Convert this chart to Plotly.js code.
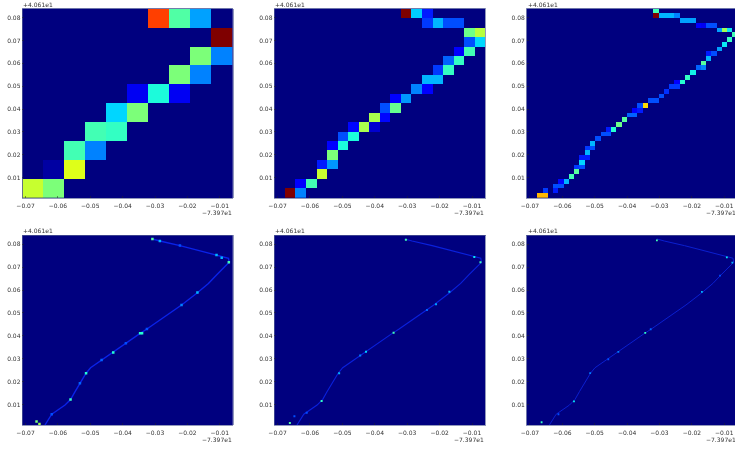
<!DOCTYPE html>
<html><head><meta charset="utf-8">
<script src="https://cdn.plot.ly/plotly-3.0.1.min.js"></script>
<style>html,body{margin:0;padding:0;background:#fff;overflow:hidden;width:735px;height:449px}#c{width:745px;height:449px;filter:blur(0.45px)}</style>
</head><body><div id="c"></div>
<script>
// axis values (offsets from -73.97 / 40.61)
const xTicks=[-0.07,-0.06,-0.05,-0.04,-0.03,-0.02,-0.01];
const yTicks=[0.01,0.02,0.03,0.04,0.05,0.06,0.07,0.08];
const xOffsetLabel='\u22127.397e1', yOffsetLabel='+4.061e1';
const xMin=-0.0710,xMax=-0.0060,yMin=0.0011,yMax=0.0839;

// coarse histograms: [row, col, density]
const cells10=[[0,0,.6],[0,1,.5],[1,1,.03],[1,2,.63],[2,2,.42],[2,3,.25],[3,3,.42],[3,4,.4],[4,4,.33],[4,5,.5],
[5,5,.1],[5,6,.37],[5,7,.1],[6,7,.5],[6,8,.25],[7,8,.5],[7,9,.25],[8,9,1],[9,6,.85],[9,7,.44],[9,8,.28]];
const cells20=[[0,1,1],[0,2,.25],[1,2,.12],[1,3,.42],[2,4,.6],[3,4,.15],[3,5,.27],[4,5,.5],[5,5,.12],[5,6,.37],
[6,6,.2],[6,7,.37],[7,7,.13],[7,8,.56],[7,9,.07],[8,9,.56],[8,10,.13],[9,10,.2],[9,11,.47],[10,11,.12],[10,12,.27],
[11,13,.25],[11,14,.12],[12,14,.3],[12,15,.3],[13,15,.18],[13,16,.4],[14,16,.22],[14,17,.4],[15,17,.12],[15,18,.42],
[16,18,.2],[16,19,.33],[17,18,.48],[17,19,.58],[18,14,.18],[18,15,.3],[18,16,.2],[18,17,.2],[19,12,1],[19,13,.32],[19,14,.15]];
const cells40=[[0,2,.72],[0,3,.72],[1,3,.18],[1,5,.15],[2,5,.2],[2,6,.2],[3,6,.13],[3,7,.3],[4,8,.42],[5,9,.45],[6,9,.18],
[6,10,.2],[7,10,.33],[8,10,.15],[8,11,.15],[9,11,.3],[10,11,.18],[10,12,.2],[11,12,.3],[12,13,.2],[13,14,.2],[13,15,.2],
[14,15,.15],[14,16,.38],[15,17,.48],[16,18,.45],[17,19,.22],[17,20,.22],[18,20,.12],[18,21,.15],[19,21,.2],[19,22,.68],
[20,23,.2],[20,24,.2],[21,25,.2],[22,26,.17],[23,27,.18],[23,28,.18],[24,28,.12],[24,29,.38],[25,30,.4],[26,31,.36],
[27,32,.22],[27,33,.25],[28,33,.45],[29,34,.3],[30,34,.15],[30,35,.2],[31,36,.28],[32,37,.35],[33,38,.4],[34,39,.42],
[35,36,.28],[35,37,.55],[35,38,.35],[36,32,.12],[36,33,.1],[36,34,.2],[36,35,.2],[37,29,.28],[37,30,.28],[37,31,.28],
[38,24,1],[38,25,.3],[38,26,.3],[38,27,.3],[38,28,.25],[39,24,.42]];

// fine histograms: the route
const routeX=[-.0640,-.0619,-.0578,-.0561,-.0547,-.0532,-.0513,-.0499,-.0465,-.0431,-.0388,-.0346,-.0325,-.0285,-.0238,-.0218,-.0171,-.0135,-.0110,-.0084,-.0071,-.0073,-.0110,-.0171,-.0223,-.0285,-.0308];
const routeY=[.0011,.0058,.0098,.0122,.0157,.0193,.0237,.0261,.0295,.0327,.0372,.0411,.0430,.0469,.0513,.0535,.0586,.0629,.0666,.0702,.0721,.0739,.0753,.0775,.0794,.0814,.0823];
// bright bins: [x, y, density]
const spots4=[[-.0308,.0823,.45],[-.0285,.0814,.3],[-.0223,.0794,.2],[-.0110,.0753,.3],[-.0094,.0741,.3],[-.0072,.0721,.42],[-.0169,.0589,.3],[-.0218,.0535,.25],[-.0325,.0430,.2],[-.0346,.0411,.38],[-.0340,.0411,.38],[-.0429,.0327,.38],[-.0465,.0295,.22],[-.0513,.0237,.38],[-.0532,.0193,.22],[-.0561,.0122,.4],[-.0619,.0058,.2],[-.0666,.0026,.5],[-.0657,.0015,.55],[-.0390,.0368,.2]];
const spots5=[[-.0304,.0820,.42],[-.0093,.0744,.35],[-.0074,.0721,.42],[-.0170,.0593,.3],[-.0211,.0538,.28],[-.0239,.0513,.22],[-.0342,.0414,.42],[-.0427,.0331,.33],[-.0445,.0314,.25],[-.0510,.0237,.3],[-.0564,.0116,.4],[-.0662,.0020,.45],[-.0648,.0049,.2],[-.0610,.0065,.2]];
const spots6=[[-.0308,.0817,.42],[-.0092,.0743,.35],[-.0075,.0720,.3],[-.0169,.0592,.3],[-.0113,.0663,.2],[-.0344,.0413,.4],[-.0327,.0429,.22],[-.0427,.0330,.25],[-.0458,.0298,.2],[-.0514,.0237,.25],[-.0564,.0114,.35],[-.0664,.0023,.4],[-.0612,.0058,.2]];

const jet=[[0,'#00007f'],[.11,'#0000ff'],[.125,'#0000ff'],[.34,'#00e0ff'],[.375,'#21ffd5'],[.5,'#7cff79'],[.64,'#e5ff12'],[.66,'#fff000'],[.89,'#ff1a00'],[.91,'#ee0000'],[1,'#7f0000']];

const W=745,H=449;
const colsPx=[[22.3,232.7],[274.3,485],[526.7,737.2]];
const rowsPx=[[8.7,198],[235.3,425]];
const layout={width:W,height:H,margin:{l:0,r:0,t:0,b:0},paper_bgcolor:'#fff',plot_bgcolor:'#00007f',showlegend:false,annotations:[]};
const traces=[];
const font={family:'DejaVu Sans',size:6,color:'#333'};

function grid(n,cells){
  const z=[];for(let r=0;r<n;r++)z.push(new Array(n).fill(0));
  cells.forEach(([r,c,v])=>{z[r][c]=v;});return z;
}
function heat(n,cells,xa,ya){
  const dx=(xMax-xMin)/n,dy=(yMax-yMin)/n;
  traces.push({type:'heatmap',z:grid(n,cells),x0:xMin+dx/2,dx:dx,y0:yMin+dy/2,dy:dy,xaxis:xa,yaxis:ya,
    colorscale:jet,zmin:0,zmax:1,showscale:false,zsmooth:false,xgap:0,ygap:0,hoverinfo:'skip'});
}
function trail(spots,lw,col,ms,xa,ya){
  heat(2,[],xa,ya);
  traces.push({type:'scatter',mode:'lines',x:routeX,y:routeY,xaxis:xa,yaxis:ya,line:{color:col,width:lw},hoverinfo:'skip'});
  traces.push({type:'scatter',mode:'markers',x:spots.map(s=>s[0]),y:spots.map(s=>s[1]),xaxis:xa,yaxis:ya,hoverinfo:'skip',
    marker:{symbol:'square',size:ms,color:spots.map(s=>s[2]),colorscale:jet,cmin:0,cmax:1,line:{width:0}}});
}
for(let i=0;i<6;i++){
  const r=Math.floor(i/3),c=i%3,s=i===0?'':String(i+1);
  const xa='x'+s,ya='y'+s;
  const ax={showgrid:false,zeroline:false,showline:true,mirror:true,linecolor:'#4a5590',linewidth:.6,ticks:'inside',ticklen:2,tickwidth:.5,tickcolor:'#222',tickfont:font,tickformat:'.2f',tickmode:'array',fixedrange:true};
  layout['xaxis'+s]=Object.assign({},ax,{domain:[colsPx[c][0]/W,colsPx[c][1]/W],range:[xMin,xMax],tickvals:xTicks,anchor:ya,ticklabelstandoff:2});
  layout['yaxis'+s]=Object.assign({},ax,{domain:[1-rowsPx[r][1]/H,1-rowsPx[r][0]/H],range:[yMin,yMax],tickvals:yTicks,anchor:xa});
  layout.annotations.push({xref:xa+' domain',yref:ya+' domain',x:0,y:1,xanchor:'left',yanchor:'bottom',yshift:0,text:yOffsetLabel,showarrow:false,font:font,borderpad:0});
  layout.annotations.push({xref:xa+' domain',yref:ya+' domain',x:1,y:0,xanchor:'right',yanchor:'top',yshift:-10,text:xOffsetLabel,showarrow:false,font:font,borderpad:0});
}
heat(10,cells10,'x','y');
heat(20,cells20,'x2','y2');
heat(40,cells40,'x3','y3');
trail(spots4,1.4,'#0a22e8',2.5,'x4','y4');
trail(spots5,1.1,'#0a20dc',2,'x5','y5');
trail(spots6,.9,'#0c22d8',1.8,'x6','y6');
Plotly.newPlot('c',traces,layout,{displayModeBar:false,staticPlot:true});
</script></body></html>
